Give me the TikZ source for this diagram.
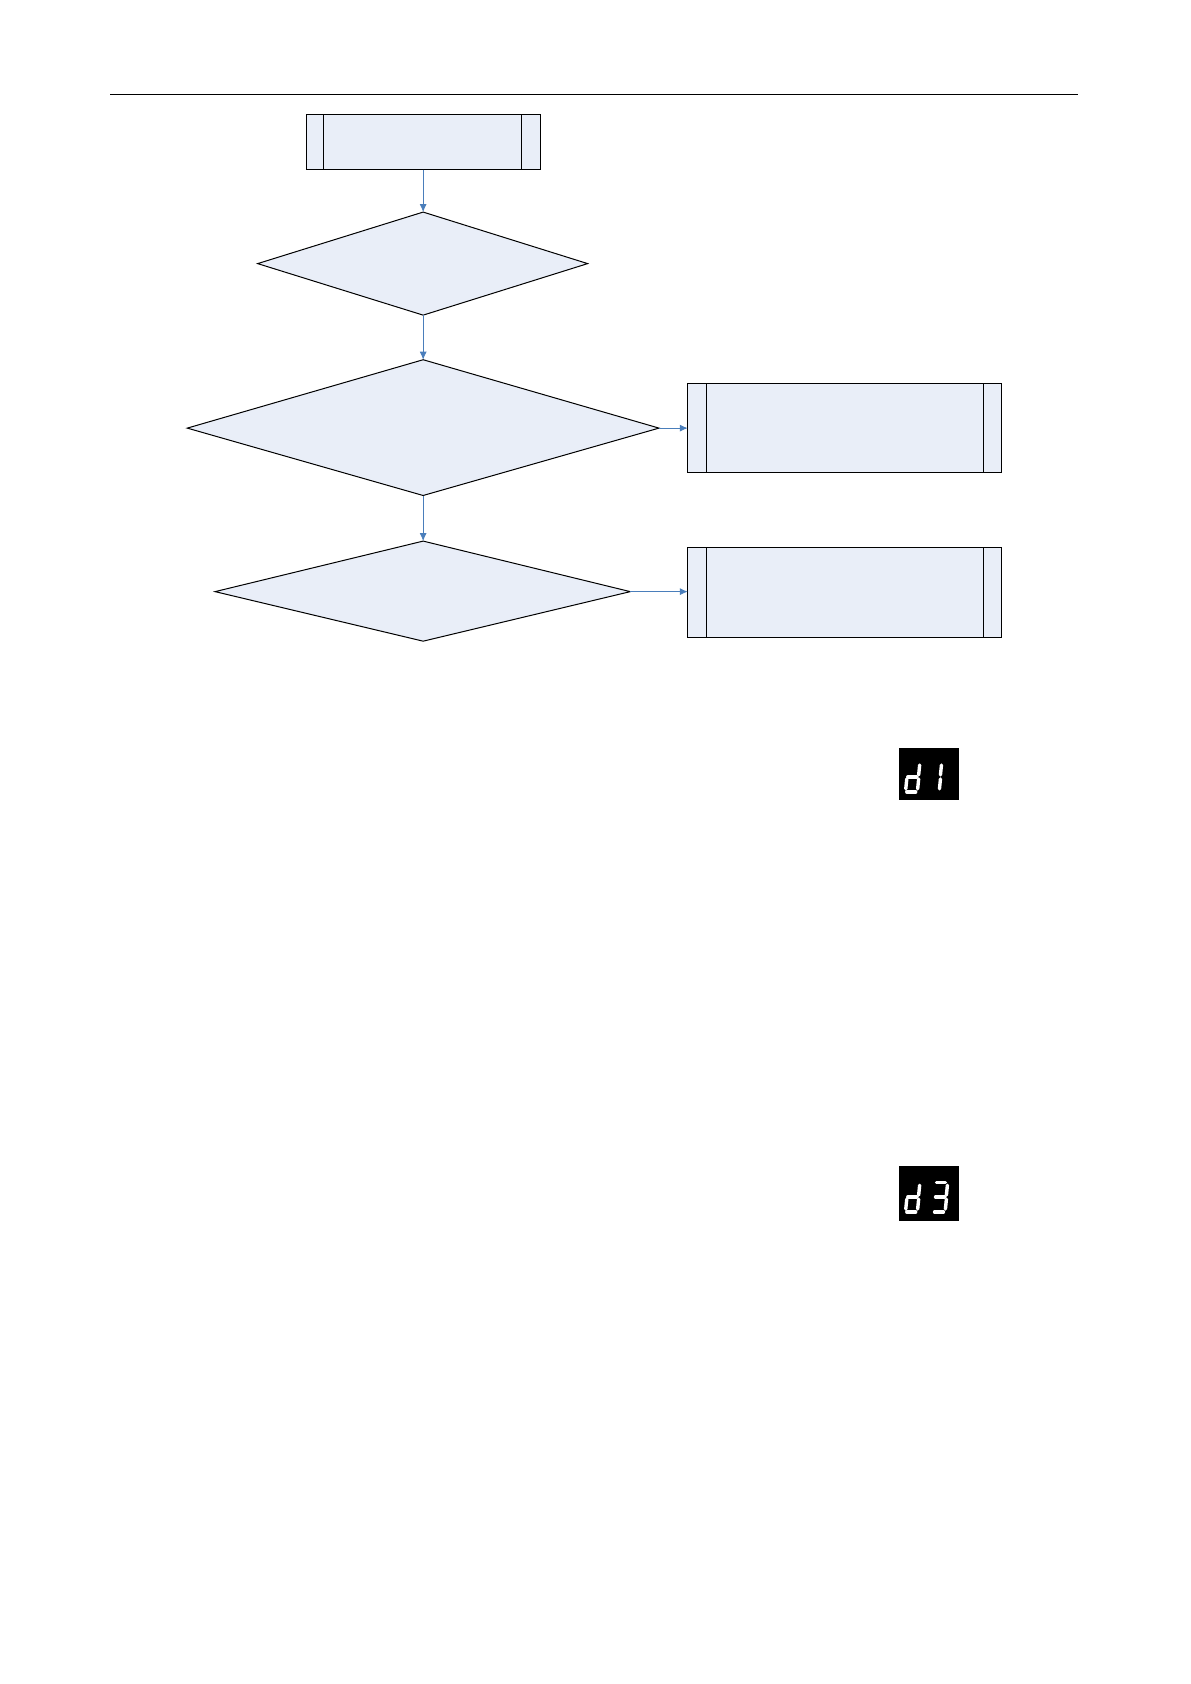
\documentclass[tikz,border=0pt]{standalone}
\usepackage{tikz}
\usetikzlibrary{shapes.geometric,arrows.meta}
\definecolor{boxfill}{HTML}{E9EEF8}
\definecolor{flowblue}{HTML}{4A7EBB}
\tikzset{
  shape line/.style={line width=1pt},
  flow/.style={-{Latex[length=8pt,width=7pt]},flowblue,thick},
  seg/.style={white,line width=3.4pt,line cap=round}
}
% seven-segment segments, origin at lower left of a 14x30 digit cell
\newcommand{\segA}[1]{\draw[seg] (#1)++(3,-30) -- ++(9,0);}
\newcommand{\segB}[1]{\draw[seg] (#1)++(14,-27) -- ++(-1,10);}
\newcommand{\segC}[1]{\draw[seg] (#1)++(13,-13) -- ++(-1,10);}
\newcommand{\segD}[1]{\draw[seg] (#1)++(1,0) -- ++(9,0);}
\newcommand{\segE}[1]{\draw[seg] (#1)++(1,-13) -- ++(-1,10);}
\newcommand{\segG}[1]{\draw[seg] (#1)++(2,-15) -- ++(9,0);}
\begin{document}
\begin{tikzpicture}[x=0.991pt,y=-0.991pt]
\useasboundingbox (0,0) rectangle (1201.8,1699.3);

\draw (111,95) -- (1088,95);

% flowchart
\draw[shape line,fill=boxfill] (309,116) rectangle (545,171);
\draw[shape line] (326,116) -- (326,171) (526,116) -- (526,171);
\node[minimum width=234pt,minimum height=54.5pt,inner sep=0pt] (start) at (427,143.5) {};

\draw[shape line,fill=boxfill] (427,214) -- (593,266) -- (427,318) -- (260,266) -- cycle;
\coordinate (q1top) at (427,214);
\coordinate (q1bot) at (427,318);

\draw[shape line,fill=boxfill] (427,363) -- (665,432) -- (427,500) -- (189,432) -- cycle;
\coordinate (q2top) at (427,363);
\coordinate (q2bot) at (427,500);
\coordinate (q2right) at (665,432);

\draw[shape line,fill=boxfill] (427,546) -- (636,597) -- (427,647) -- (217,597) -- cycle;
\coordinate (q3top) at (427,546);
\coordinate (q3right) at (636,597);

\draw[shape line,fill=boxfill] (694,387) rectangle (1011,477);
\draw[shape line] (713,387) -- (713,477) (992,387) -- (992,477);
\coordinate (r1left) at (694,432);

\draw[shape line,fill=boxfill] (694,552) rectangle (1011,643);
\draw[shape line] (713,552) -- (713,643) (992,552) -- (992,643);
\coordinate (r2left) at (694,597);

\draw[flow] (start.south) -- (q1top);
\draw[flow] (q1bot) -- (q2top);
\draw[flow] (q2bot) -- (q3top);
\draw[flow] (q2right) -- (r1left);
\draw[flow] (q3right) -- (r2left);

% display d1
\fill[black] (907,755) rectangle (968,807);
\coordinate (d1a) at (914,799);
\segB{d1a}\segC{d1a}\segD{d1a}\segE{d1a}\segG{d1a}
\coordinate (d1b) at (936,799);
\segB{d1b}\segC{d1b}

% display d3
\fill[black] (907,1177) rectangle (968,1232);
\coordinate (d3a) at (914,1223);
\segB{d3a}\segC{d3a}\segD{d3a}\segE{d3a}\segG{d3a}
\coordinate (d3b) at (942,1223);
\segA{d3b}\segB{d3b}\segC{d3b}\segD{d3b}\segG{d3b}
\end{tikzpicture}
\end{document}
